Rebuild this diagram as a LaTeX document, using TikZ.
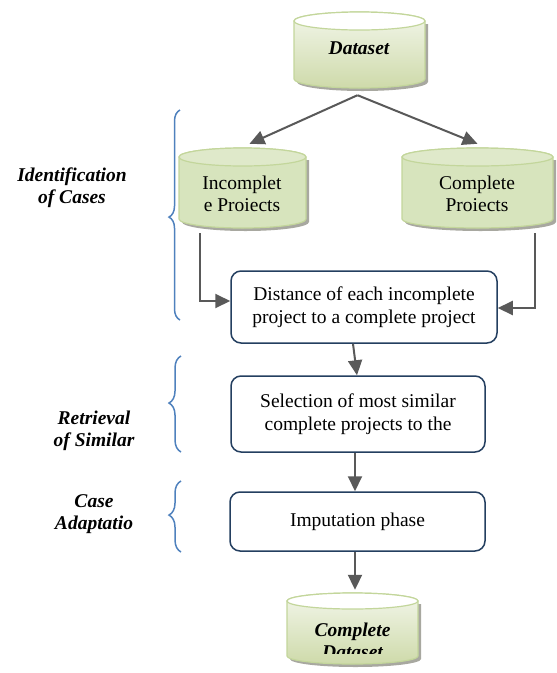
\documentclass[tikz,border=0pt]{standalone}
\usepackage{fontspec}
\setmainfont{Liberation Serif}
\usetikzlibrary{arrows.meta,decorations.pathreplacing}
\definecolor{arrc}{HTML}{595959}
\definecolor{boxc}{HTML}{243F60}
\definecolor{brc}{HTML}{4F81BD}
\definecolor{cylbody}{HTML}{D7E4BD}
\definecolor{cyltop}{HTML}{DFE9CA}
\definecolor{cylline}{HTML}{C3D69B}
\definecolor{shd}{HTML}{A8A8A0}
\newcommand\mycyl[6]{%
  \begin{scope}[shift={(3,-3)}]
    \fill[shd] (#1,{-(#3+#5)}) -- (#1,{-(#4-#5)}) arc[start angle=180,end angle=360,x radius={(#2-#1)/2},y radius=#5] -- (#2,{-(#3+#5)}) -- cycle;
  \end{scope}
  \path[#6] (#1,{-(#3+#5)}) -- (#1,{-(#4-#5)}) arc[start angle=180,end angle=360,x radius={(#2-#1)/2},y radius=#5] -- (#2,{-(#3+#5)}) arc[start angle=0,end angle=180,x radius={(#2-#1)/2},y radius=#5] -- cycle;
}
\newcommand\mycyltop[5]{%
  \path[#5] ({(#1+#2)/2},{-(#3+#4)}) ellipse[x radius={(#2-#1)/2},y radius=#4];
}
\begin{document}
\begin{tikzpicture}[x=1pt,y=1pt,
  big/.style={font=\fontsize{19.5}{22.5}\selectfont},
  lbl/.style={big,font=\fontsize{19.5}{22}\selectfont\bfseries\itshape,align=center},
  cylnode/.style={inner sep=0,draw=none},
  txt/.style={big,align=center,inner sep=0},
  pbox/.style={draw=boxc,line width=1.5pt,rounded corners=10pt,fill=white,big,align=center,inner sep=0},
  arr/.style={draw=arrc,line width=2pt,-{Triangle[length=15pt,width=14pt]}},
  brace/.style={draw=brc,line width=1.5pt,decorate},
  dsbody/.style={draw=cylline,line width=1.2pt,top color=cyltop!40!white,bottom color=cylbody!90!olive},
  prbody/.style={draw=cylline,line width=1.2pt,fill=cylbody},
  dstop/.style={draw=cylline,line width=1.2pt,fill=white},
  prtop/.style={draw=cylline,line width=1.2pt,fill=cyltop}]
\useasboundingbox (0,0) rectangle (557,-673);

% cylinders
\mycyl{294}{425}{12}{88}{9}{dsbody}
\mycyltop{294}{425}{12}{9}{dstop}
\mycyl{179}{306}{148}{228}{9}{prbody}
\mycyltop{179}{306}{148}{9}{prtop}
\mycyl{402}{553}{148}{228}{9}{prbody}
\mycyltop{402}{553}{148}{9}{prtop}
\mycyl{287}{418}{593}{664}{8}{dsbody}
\mycyltop{287}{418}{593}{8}{dstop}

\node[cylnode,minimum width=131,minimum height=76] (ds) at (359.5,-50) {};
\node[cylnode,minimum width=127,minimum height=80] (inc) at (242.5,-188) {};
\node[cylnode,minimum width=151,minimum height=80] (cmp) at (477.5,-188) {};
\node[cylnode,minimum width=131,minimum height=71] (cds) at (352.5,-628.5) {};

\node[txt,font=\fontsize{19.5}{22.5}\selectfont\bfseries\itshape] (dsT) at (359,-48) {Dataset};
\node[txt] (incT) at (242,-194) {Incomplet\\e Proiects};
\node[txt] (cmpT) at (477,-194) {Complete\\Proiects};
\begin{scope}
  \clip (280,-600) rectangle (430,-653);
  \node[txt,font=\fontsize{19.5}{22.5}\selectfont\bfseries\itshape] (cdsT) at (352.5,-641) {Complete\\Dataset};
\end{scope}

% process boxes
\node[pbox,minimum width=266,minimum height=72] (dist) at (364,-307) {Distance of each incomplete\\project to a complete project};
\node[pbox,minimum width=254,minimum height=76] (sel) at (358,-414) {Selection of most similar\\complete projects to the};
\node[pbox,minimum width=255,minimum height=59] (imp) at (357.5,-521.5) {Imputation phase};

% connectors
\draw[arr] ([shift={(-2,-7)}]ds.south) -- ([shift={(7,4)}]inc.north);
\draw[arr] ([shift={(-2,-7)}]ds.south) -- ([shift={(0,4)}]cmp.north);
\draw[arr] ([shift={(-42.5,-5)}]inc.south) |- ([yshift=6]dist.west);
\draw[arr] ([shift={(57.5,-5)}]cmp.south) |- ([yshift=-1]dist.east);
\draw[arr] ([xshift=-11]dist.south) -- ([xshift=-1]sel.north);
\draw[arr] ([xshift=-3]sel.south) -- ([xshift=-2.5]imp.north);
\draw[arr] ([xshift=-2.5]imp.south) -- ([shift={(2.5,3)}]cds.north);

% braces
\draw[brace,decoration={brace,amplitude=11pt,aspect=0.49}] (180,-320) -- (180,-110);
\draw[brace,decoration={brace,amplitude=12pt,aspect=0.51}] (181,-452) -- (181,-356);
\draw[brace,decoration={brace,amplitude=12pt,aspect=0.52}] (181,-552) -- (181,-481);

% labels
\node[lbl] (l1) at (72,-187.5) {Identification\\of Cases};
\node[lbl] (l2) at (94,-431) {Retrieval\\of Similar};
\node[lbl] (l3) at (94,-514) {Case\\Adaptatio};
\end{tikzpicture}
\end{document}
